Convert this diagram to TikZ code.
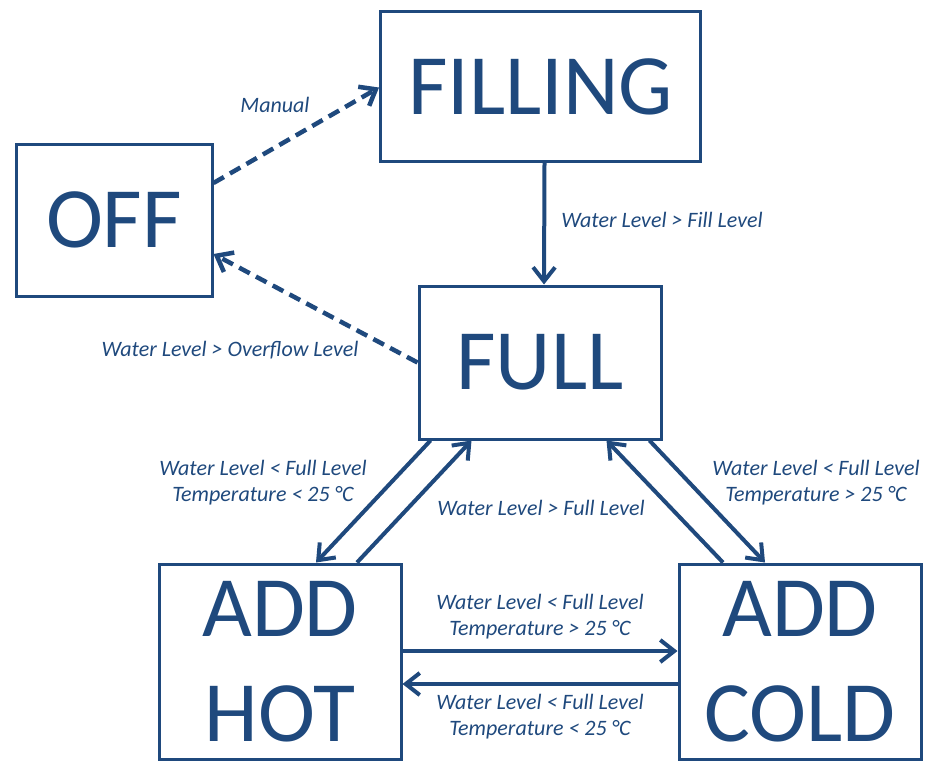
\documentclass[tikz,border=0pt]{standalone}
\usepackage{fontspec}
\setmainfont{Carlito}
\usetikzlibrary{arrows.meta}
\definecolor{stateblue}{RGB}{31,73,125}

\begin{document}
\begin{tikzpicture}[x=1pt, y=-1pt,
    state/.style={draw=stateblue, line width=3pt, inner sep=0pt, text=stateblue,
        font=\fontsize{86}{105}\selectfont, align=center},
    cond/.style={text=stateblue, inner sep=0pt, align=center,
        font=\fontsize{22}{26}\selectfont\itshape},
    trans/.style={draw=stateblue, line width=4pt, -{Straight Barb[length=14pt,width=22pt]}},
    dashtrans/.style={trans, line width=4.5pt, dash pattern=on 12pt off 7pt}]
    \useasboundingbox (0,0) rectangle (925,761);

    % states
    \node[state, minimum width=320pt, minimum height=150pt] (filling) at (540.5,86.5) {FILLING};
    \node[state, minimum width=196pt, minimum height=152pt] (off) at (114,220) {OFF};
    \node[state, minimum width=242pt, minimum height=153pt] (full) at (540,362.5) {FULL};
    \node[state, minimum width=242pt, minimum height=195pt] (addhot) at (280,661.5) {ADD\\HOT};
    \node[state, minimum width=242pt, minimum height=195pt] (addcold) at (800,661.5) {ADD\\COLD};

    % transitions
    \draw[dashtrans] ([yshift=37pt]off.east) -- ([yshift=-1pt]filling.west);
    \draw[dashtrans] (full.west) -- ([yshift=-34pt]off.east);
    \draw[trans] ([xshift=4pt]filling.south) -- ([xshift=4pt]full.north);
    \draw[trans] ([xshift=13pt]full.south west) -- ([xshift=36pt]addhot.north);
    \draw[trans] ([xshift=77pt]addhot.north) -- ([xshift=54pt]full.south west);
    \draw[trans] ([xshift=-77pt]addcold.north) -- ([xshift=-56pt]full.south east);
    \draw[trans] ([xshift=-13pt]full.south east) -- ([xshift=-35pt]addcold.north);
    \draw[trans] ([yshift=10.5pt]addhot.east) -- ([yshift=10.5pt]addcold.west);
    \draw[trans] ([yshift=-22.5pt]addcold.west) -- ([yshift=-22.5pt]addhot.east);

    % conditions
    \node[cond] (manual) at (275,105) {Manual};
    \node[cond] (fill) at (662,220) {Water Level > Fill Level};
    \node[cond] (overflow) at (230,350) {Water Level > Overflow Level};
    \node[cond] (tohot) at (263,483) {Water Level < Full Level\\Temperature < 25 °C};
    \node[cond] (fullagain) at (541,508) {Water Level > Full Level};
    \node[cond] (tocold) at (816,483) {Water Level < Full Level\\Temperature > 25 °C};
    \node[cond] (hotcold) at (540,617) {Water Level < Full Level\\Temperature > 25 °C};
    \node[cond] (coldhot) at (540,717) {Water Level < Full Level\\Temperature < 25 °C};
\end{tikzpicture}
\end{document}
